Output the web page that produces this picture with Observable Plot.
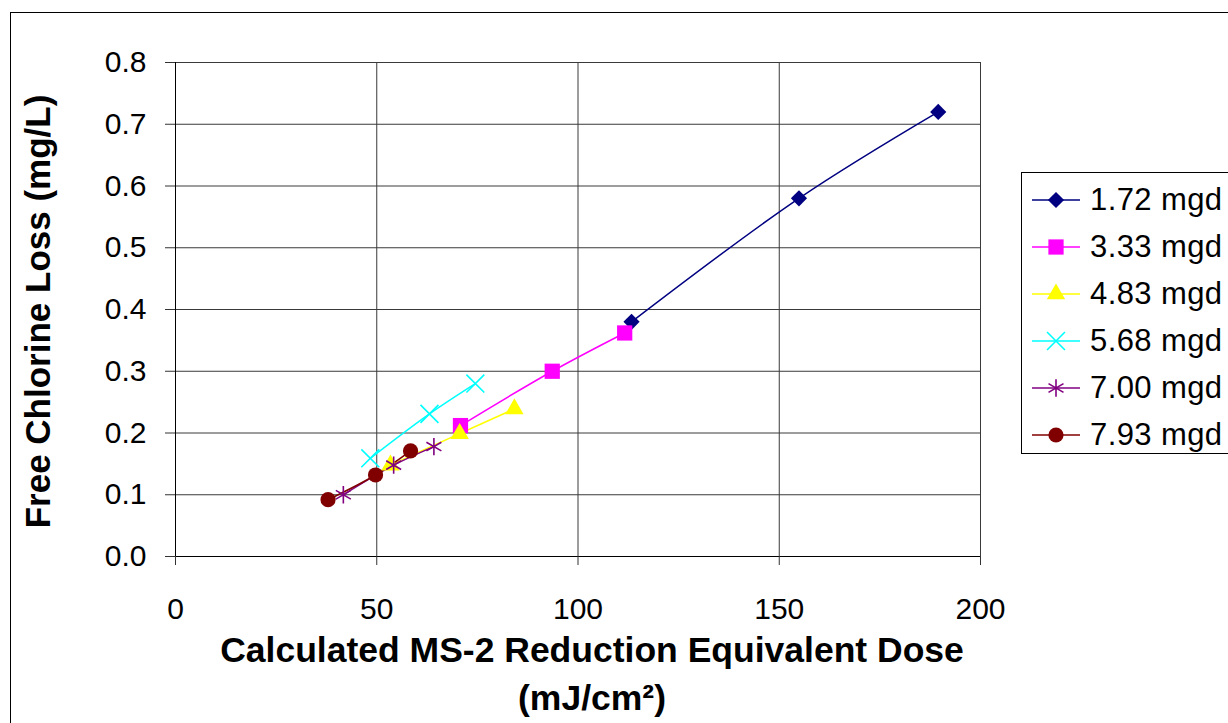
<!DOCTYPE html>
<html>
<head>
<meta charset="utf-8">
<script src="https://cdn.jsdelivr.net/npm/d3@7"></script>
<script src="https://cdn.jsdelivr.net/npm/@observablehq/plot@0.6"></script>
<style>
  html, body { margin: 0; padding: 0; background: #fff; overflow: hidden; }
  #wrap { position: relative; width: 1228px; height: 723px; overflow: hidden; font-family: "Liberation Sans", Arial, sans-serif; }
  #border { position: absolute; left: 10px; top: 12px; width: 1400px; height: 900px; border: 1px solid #000; box-sizing: border-box; }
  #chart { position: absolute; left: 0; top: 0; }
  #legend { position: absolute; left: 1021px; top: 172px; width: 260px; height: 282px; border: 1px solid #000; box-sizing: border-box; background: #fff; }
  .item { position: absolute; left: 0; height: 40px; display: flex; align-items: center; }
  .item span { font-size: 31px; color: #000; margin-left: 8px; white-space: nowrap; letter-spacing: 0.4px; }
</style>
</head>
<body>
<div id="wrap">
  <div id="border"></div>
  <div id="chart"></div>
  <div id="legend"></div>
</div>
<script>
// ---- data ----
const series = ["1.72 mgd", "3.33 mgd", "4.83 mgd", "5.68 mgd", "7.00 mgd", "7.93 mgd"];
const colors = ["#000080", "#FF00FF", "#FFFF00", "#00FFFF", "#800080", "#800000"];
const symbols = ["diamond2", "square", "triangle", "times", "asterisk", "circle"];
const dose_172 = [113.3, 154.9, 189.5];
const loss_172 = [0.38, 0.58, 0.72];
const dose_333 = [70.8, 93.6, 111.6];
const loss_333 = [0.212, 0.30, 0.362];
const dose_483 = [53.4, 70.6, 84.2];
const loss_483 = [0.148, 0.199, 0.239];
const dose_568 = [48.4, 63.1, 74.5];
const loss_568 = [0.159, 0.231, 0.28];
const dose_700 = [41.7, 54.2, 64.2];
const loss_700 = [0.10, 0.148, 0.178];
const dose_793 = [37.9, 49.7, 58.4];
const loss_793 = [0.092, 0.132, 0.171];
const xTicks = [0, 50, 100, 150, 200];
const yTicks = [0, 0.1, 0.2, 0.3, 0.4, 0.5, 0.6, 0.7, 0.8];
const xTitle1 = "Calculated MS-2 Reduction Equivalent Dose";
const xTitle2 = "(mJ/cm²)";
const yTitle = "Free Chlorine Loss (mg/L)";

const doses = [dose_172, dose_333, dose_483, dose_568, dose_700, dose_793];
const losses = [loss_172, loss_333, loss_483, loss_568, loss_700, loss_793];
const rows = series.flatMap((s, i) => doses[i].map((d, j) => ({series: s, dose: d, loss: losses[i][j]})));

const sizes = {diamond2: 7.3, square: 8.6, triangle: 6.8, times: 8.2, asterisk: 8.2, circle: 7.6};
const strokeSyms = new Set(["times", "asterisk"]);

const font = "Liberation Sans, Arial, sans-serif";

const dotMarks = series.map((s, i) => {
  const sym = symbols[i];
  const opts = {x: "dose", y: "loss", symbol: sym, r: sizes[sym]};
  if (strokeSyms.has(sym)) { opts.stroke = colors[i]; opts.strokeWidth = 1.6; opts.fill = "none"; }
  else { opts.fill = colors[i]; opts.stroke = "none"; }
  return Plot.dot(rows.filter(r => r.series === s), opts);
});

const chart = Plot.plot({
  width: 1228,
  height: 723,
  marginLeft: 175,
  marginRight: 248,
  marginTop: 62,
  marginBottom: 167,
  style: {fontFamily: font, background: "transparent", overflow: "visible"},
  x: {domain: [0, 200], ticks: xTicks},
  y: {domain: [0, 0.8], ticks: yTicks},
  color: {domain: series, range: colors},
  marks: [
    Plot.gridY(yTicks.slice(1), {stroke: "#3a3a3a", strokeOpacity: 1, strokeWidth: 1}),
    Plot.gridX(xTicks.slice(1), {stroke: "#3a3a3a", strokeOpacity: 1, strokeWidth: 1}),
    Plot.ruleX([0], {stroke: "#000", strokeWidth: 1}),
    Plot.ruleY([0], {stroke: "#000", strokeWidth: 1}),
    Plot.axisY(yTicks, {tickSize: 10, tickPadding: 19, tickFormat: d3.format(".1f"), fontSize: 30, label: null, stroke: "#333", color: "#000"}),
    Plot.axisX(xTicks, {tickSize: 9, tickPadding: 32, tickFormat: d3.format("d"), fontSize: 30, label: null, stroke: "#333", color: "#000"}),
    Plot.line(rows, {x: "dose", y: "loss", z: "series", stroke: "series", strokeWidth: 1.5, curve: "catmull-rom"}),
    ...dotMarks,
    Plot.text([yTitle], {frameAnchor: "left", textAnchor: "middle", rotate: -90, dx: -137, dy: 2, fontSize: 35, fontWeight: "bold", fill: "#000"}),
    Plot.text([xTitle1], {frameAnchor: "bottom", dx: 14, dy: 105, fontSize: 35.5, fontWeight: "bold", fill: "#000"}),
    Plot.text([xTitle2], {frameAnchor: "bottom", dx: 14, dy: 153, fontSize: 35.5, fontWeight: "bold", fill: "#000"})
  ]
});
document.getElementById("chart").appendChild(chart);

// ---- legend ----
const legend = document.getElementById("legend");
const d3sym = {diamond2: d3.symbolDiamond2, square: d3.symbolSquare, triangle: d3.symbolTriangle, times: d3.symbolTimes, asterisk: d3.symbolAsterisk, circle: d3.symbolCircle};
series.forEach((s, i) => {
  const sym = symbols[i];
  const item = document.createElement("div");
  item.className = "item";
  item.style.top = (7 + i * 46.9) + "px";
  item.style.left = "10px";
  const svg = d3.create("svg").attr("width", 50).attr("height", 40);
  svg.append("line").attr("x1", 0).attr("x2", 48).attr("y1", 20).attr("y2", 20).attr("stroke", colors[i]).attr("stroke-width", 1.5);
  const path = svg.append("path")
    .attr("transform", "translate(24,20)")
    .attr("d", d3.symbol(d3sym[sym], Math.PI * sizes[sym] * sizes[sym])());
  if (strokeSyms.has(sym)) path.attr("fill", "none").attr("stroke", colors[i]).attr("stroke-width", 1.6);
  else path.attr("fill", colors[i]);
  item.appendChild(svg.node());
  const label = document.createElement("span");
  label.textContent = s;
  item.appendChild(label);
  legend.appendChild(item);
});
</script>
</body>
</html>
